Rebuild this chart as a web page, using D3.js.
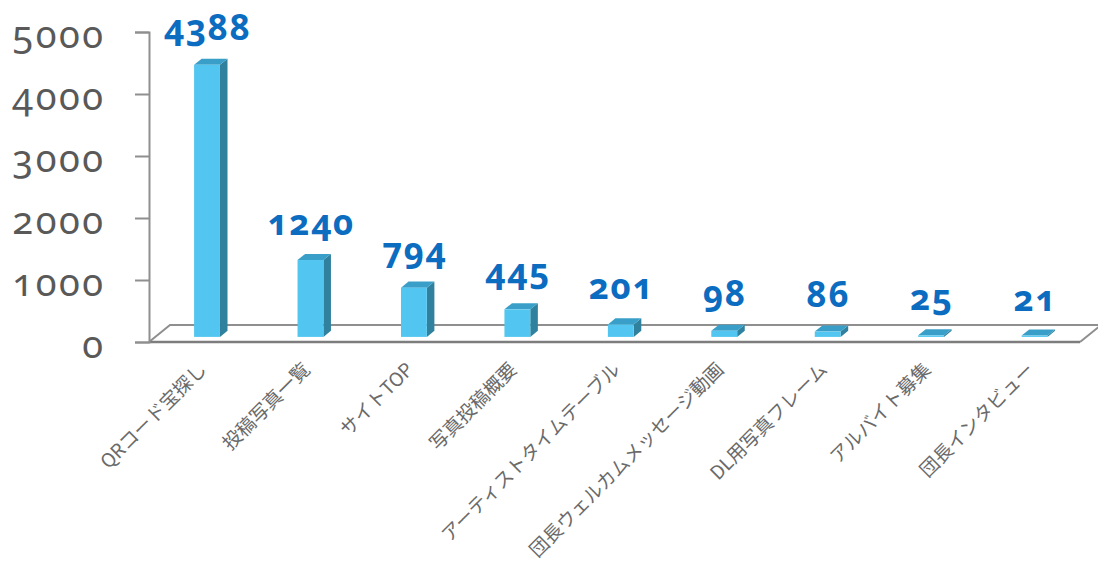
<!DOCTYPE html>
<html>
<head>
<meta charset="utf-8">
<script src="https://cdn.jsdelivr.net/npm/d3@7"></script>
<style>
  html, body { margin: 0; padding: 0; background: #ffffff; }
  svg { display: block; }
  .num { font-family: "Noto Sans", "Lato", sans-serif; font-variant-numeric: oldstyle-nums; font-feature-settings: "onum" 1; }
  .cat { font-family: "Noto Sans CJK JP", "Noto Sans", sans-serif; }
</style>
</head>
<body>
<svg id="chart" width="1098" height="569"></svg>
<script>
// Page views per content item
const categories = [
  "QRコード宝探し", "投稿写真一覧", "サイトTOP", "写真投稿概要",
  "アーティストタイムテーブル", "団長ウェルカムメッセージ動画",
  "DL用写真フレーム", "アルバイト募集", "団長インタビュー"
];
const values = [4388, 1240, 794, 445, 201, 98, 86, 25, 21];
const yTicks = [0, 1000, 2000, 3000, 4000, 5000];

const svg = d3.select("#chart");

// front plane of the plot area
const plotLeft = 149, plotRight = 1080, plotBottom = 342, plotTop = 32;
// floor depth (back edge offset from front edge)
const depthX = 21, depthY = -17;
// bars sit in the middle of the floor depth
const faceX = depthX * 0.3, faceY = depthY * 0.3;
const sideX = depthX * 0.36, sideY = depthY * 0.36;

const x = d3.scaleBand()
  .domain(categories)
  .range([plotLeft, plotRight])
  .paddingInner(0.75)
  .paddingOuter(0.375);

const y = d3.scaleLinear().domain([0, 5000]).range([plotBottom, plotTop]);

const colors = { front: "#52c6f0", side: "#2f819d", top: "#3a9fc8" };
const lineColor = "#8f8f8f";

// floor outline
svg.append("path")
  .attr("d", d3.line()([
    [plotLeft, plotBottom], [plotLeft + depthX, plotBottom + depthY],
    [plotRight + depthX, plotBottom + depthY], [plotRight, plotBottom]
  ]))
  .attr("fill", "#ffffff")
  .attr("stroke", lineColor)
  .attr("stroke-width", 2);

// bars
const bars = svg.append("g");
const w = x.bandwidth();
values.forEach((v, i) => {
  const x0 = x(categories[i]) + faceX;
  const yb = y(0) + faceY;
  const yt = y(v) + faceY;
  const g = bars.append("g");
  // side face
  g.append("path")
    .attr("d", d3.line()([
      [x0 + w, yt], [x0 + w + sideX, yt + sideY],
      [x0 + w + sideX, yb + sideY], [x0 + w, yb]
    ]) + "Z")
    .attr("fill", colors.side);
  // top face
  g.append("path")
    .attr("d", d3.line()([
      [x0, yt], [x0 + w, yt], [x0 + w + sideX, yt + sideY], [x0 + sideX, yt + sideY]
    ]) + "Z")
    .attr("fill", colors.top);
  // front face
  g.append("rect")
    .attr("x", x0).attr("y", yt)
    .attr("width", w).attr("height", Math.max(0, yb - yt))
    .attr("fill", colors.front);
});

// front edge of the floor
svg.append("line")
  .attr("x1", plotLeft).attr("x2", plotRight)
  .attr("y1", plotBottom).attr("y2", plotBottom)
  .attr("stroke", "#7d7d7d").attr("stroke-width", 2.6);

// value axis
const tickSpacing = 2.5;
const axis = svg.append("g")
  .attr("transform", `translate(${plotLeft},0)`)
  .call(d3.axisLeft(y).tickValues(yTicks).tickSize(14).tickPadding(32 - tickSpacing).tickFormat(d3.format("d")));
axis.select(".domain").attr("stroke", lineColor).attr("stroke-width", 2);
axis.selectAll(".tick line").attr("stroke", lineColor).attr("stroke-width", 2);
axis.selectAll(".tick text")
  .attr("class", "num")
  .attr("fill", "#595959")
  .attr("font-size", 38)
  .attr("letter-spacing", tickSpacing)
  .attr("dy", "0.42em");

// value labels
const labelSpacing = 1.5;
svg.append("g").selectAll("text")
  .data(values)
  .join("text")
  .attr("class", "num")
  .attr("x", (d, i) => x(categories[i]) + faceX + w / 2 + labelSpacing / 2)
  .attr("y", d => y(d) + faceY - 25)
  .attr("text-anchor", "middle")
  .attr("font-size", 35)
  .attr("font-weight", 700)
  .attr("letter-spacing", labelSpacing)
  .attr("fill", "#0b6cc0")
  .text(d => d);

// category labels
svg.append("g").selectAll("text")
  .data(categories)
  .join("text")
  .attr("class", "cat")
  .attr("transform", d => `translate(${x(d) + faceX + w / 2 - 4},${366}) rotate(-45)`)
  .attr("text-anchor", "end")
  .attr("dy", "0.35em")
  .attr("font-size", 19)
  .attr("fill", "#6a6a6a")
  .text(d => d);
</script>
</body>
</html>
